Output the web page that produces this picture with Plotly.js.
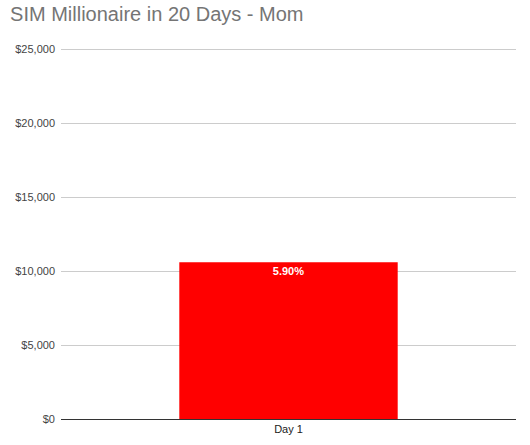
<!DOCTYPE html>
<html><head><meta charset="utf-8">
<script src="https://cdn.plot.ly/plotly-3.0.1.min.js"></script>
<style>html,body{margin:0;padding:0;background:#fff}#c{width:530px;height:445px}</style>
</head><body><div id="c"></div>
<script>
var categories = ["Day 1"];
var values = [10590];
var labels = ["<b>5.90%</b>"];
var yTicks = [0, 5000, 10000, 15000, 20000, 25000];
var yTickText = ["$0", "$5,000", "$10,000", "$15,000", "$20,000", "$25,000"];

Plotly.newPlot("c", [{
  type: "bar", x: categories, y: values, text: labels,
  textposition: "inside", insidetextanchor: "end",
  textfont: {color: "#ffffff", size: 11, family: "Liberation Sans, Arial"},
  marker: {color: "#ff0000"},
  hoverinfo: "none", cliponaxis: false
}], {
  width: 530, height: 445,
  margin: {l: 61, r: 14, t: 48, b: 26},
  paper_bgcolor: "#fff", plot_bgcolor: "#fff",
  font: {family: "Liberation Sans, Arial", color: "#444"},
  title: {text: "SIM Millionaire in 20 Days - Mom", x: 0.019, xanchor: "left", y: 0.968, yanchor: "middle",
    font: {size: 20, color: "#757575", family: "Liberation Sans, Arial"}},
  bargap: 0.52,
  xaxis: {type: "category", showgrid: false, showline: true, linecolor: "#333", linewidth: 1,
    ticks: "", tickfont: {size: 11, color: "#222"}, zeroline: false, fixedrange: true},
  yaxis: {range: [0, 25070], tickvals: yTicks, ticktext: yTickText, showgrid: true,
    gridcolor: "#cccccc", zeroline: false, showline: false, ticks: "", ticklabelstandoff: 5,
    tickfont: {size: 11, color: "#444"}, fixedrange: true},
  showlegend: false
}, {displayModeBar: false, staticPlot: true});
</script></body></html>
